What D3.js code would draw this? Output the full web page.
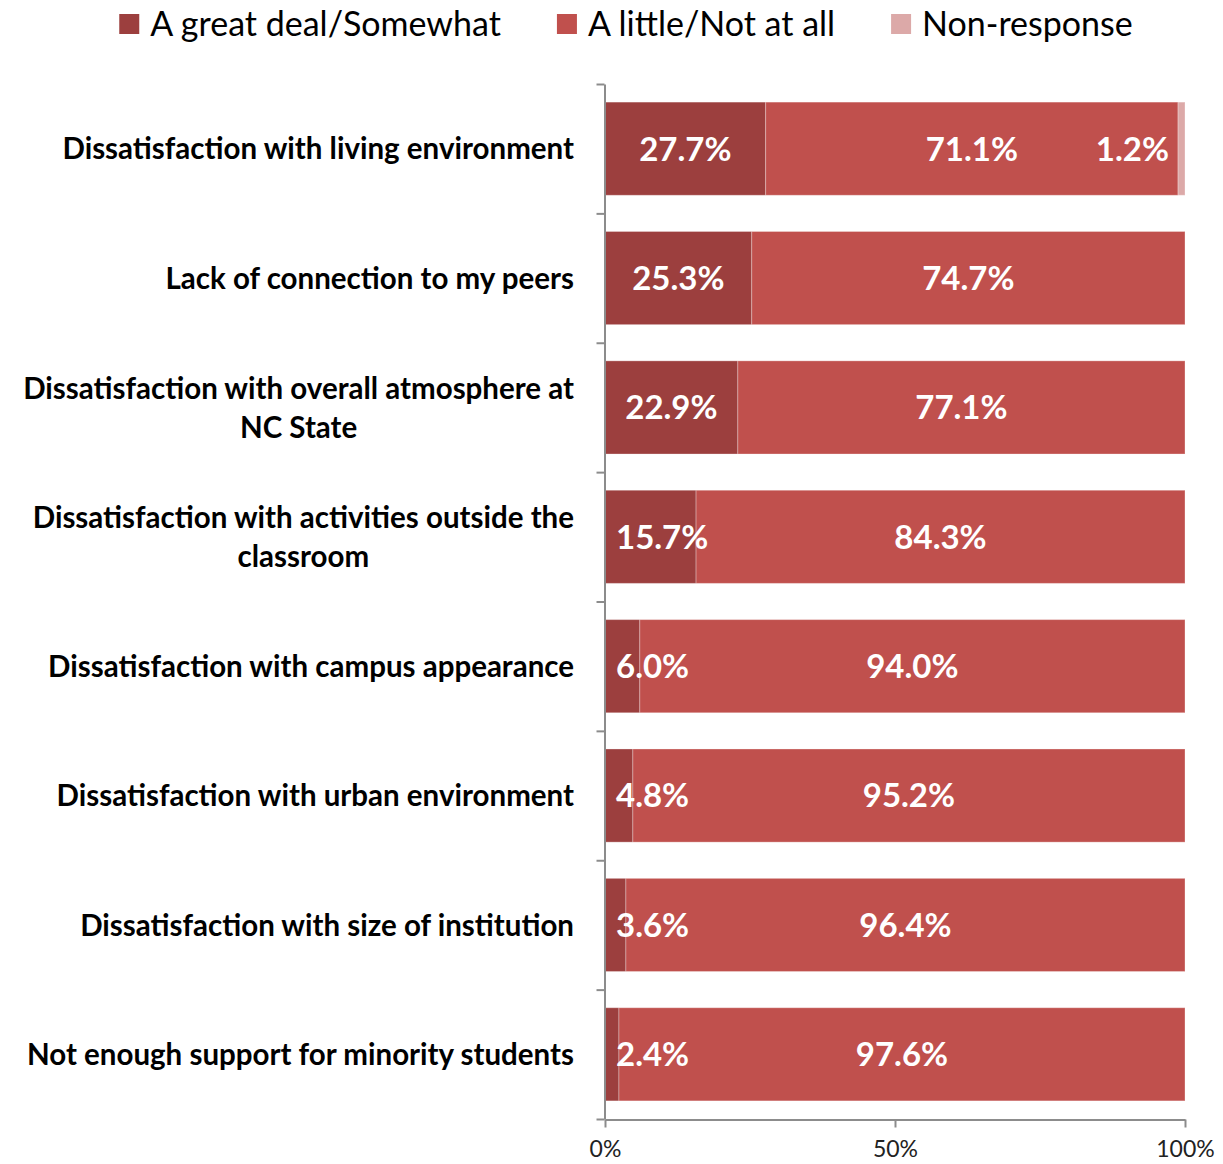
<!DOCTYPE html>
<html>
<head>
<meta charset="utf-8">
<script src="https://cdn.jsdelivr.net/npm/d3@7"></script>
<style>
  html, body { margin: 0; padding: 0; background: #fff; }
  svg { display: block; font-family: Lato, "Open Sans", sans-serif; }
</style>
</head>
<body>
<svg id="chart" width="1223" height="1164"></svg>
<script>
// Reasons for dissatisfaction, share of respondents by answer group
const categories = [
  ["Dissatisfaction with living environment"],
  ["Lack of connection to my peers"],
  ["Dissatisfaction with overall atmosphere at", "NC State"],
  ["Dissatisfaction with activities outside the", "classroom"],
  ["Dissatisfaction with campus appearance"],
  ["Dissatisfaction with urban environment"],
  ["Dissatisfaction with size of institution"],
  ["Not enough support for minority students"]
];
const seriesNames = ["A great deal/Somewhat", "A little/Not at all", "Non-response"];
const greatDeal   = [27.7, 25.3, 22.9, 15.7, 6.0, 4.8, 3.6, 2.4];
const littleNot   = [71.1, 74.7, 77.1, 84.3, 94.0, 95.2, 96.4, 97.6];
const nonResponse = [1.2, 0, 0, 0, 0, 0, 0, 0];
const tickValues  = [0, 50, 100];
const colors      = ["#9c3f3e", "#c0504d", "#dca9a8"];

const svg = d3.select("#chart");
const margin = { top: 84, right: 38, bottom: 45, left: 605 };
const W = 1223, H = 1164;

const rows = categories.map((c, i) => ({
  label: c,
  values: [greatDeal[i], littleNot[i], nonResponse[i]]
}));

const x = d3.scaleLinear().domain([0, 100]).range([margin.left, W - margin.right]);
const y = d3.scaleBand()
  .domain(d3.range(rows.length))
  .range([margin.top, H - margin.bottom])
  .paddingInner(0.28)
  .paddingOuter(0.14);

// stacked segments
const stack = d3.stack().keys([0, 1, 2]).value((d, k) => d.values[k]);
const layers = stack(rows);

const g = svg.append("g");
layers.forEach((layer, k) => {
  g.selectAll(null)
    .data(layer.map((s, i) => ({ s, i })))
    .join("rect")
    .filter(d => d.s[1] - d.s[0] > 0)
    .attr("x", d => x(d.s[0]))
    .attr("y", d => y(d.i))
    .attr("width", d => x(d.s[1]) - x(d.s[0]))
    .attr("height", y.bandwidth())
    .attr("fill", colors[k])
    .attr("stroke", "rgba(255,255,255,0.3)")
    .attr("stroke-width", 1);
});

// value labels
const labelFont = 33;
layers.forEach((layer, k) => {
  layer.forEach((s, i) => {
    const v = rows[i].values[k];
    if (!(v > 0)) return;
    const x0 = x(s[0]), x1 = x(s[1]);
    const t = g.append("text")
      .attr("y", y(i) + y.bandwidth() / 2)
      .attr("dy", "0.36em")
      .attr("fill", "#fff")
      .attr("font-weight", 700)
      .attr("font-size", labelFont)
      .text(v.toFixed(1) + "%");
    const w = t.node().getComputedTextLength();
    if (x1 - x0 >= w + 20) {
      t.attr("x", (x0 + x1) / 2).attr("text-anchor", "middle");
    } else if (k === 0) {
      t.attr("x", x0 + 11).attr("text-anchor", "start");
    } else {
      t.attr("x", x1 - 16).attr("text-anchor", "end");
    }
  });
});

// category axis: ticks at band boundaries
const yb = d3.scaleLinear().domain([0, rows.length]).range([margin.top, H - margin.bottom]);
const yAxis = svg.append("g")
  .attr("transform", `translate(${margin.left - 0.5},0)`)
  .call(d3.axisLeft(yb).tickValues(d3.range(rows.length + 1)).tickFormat("").tickSize(8).tickSizeOuter(0));
yAxis.selectAll("path, line").attr("stroke", "#8c8c8c").attr("stroke-width", 2);

// category labels
rows.forEach((r, i) => {
  const cy = y(i) + y.bandwidth() / 2;
  const lines = r.label;
  const lh = 39;
  const t = svg.append("text")
    .attr("font-weight", 700)
    .attr("font-size", 29.5)
    .attr("fill", "#000");
  lines.forEach((ln, j) => {
    t.append("tspan")
      .attr("y", cy + (j - (lines.length - 1) / 2) * lh)
      .attr("dy", "0.36em")
      .text(ln);
  });
  // right-align the block, centre lines within it
  const widths = [];
  t.selectAll("tspan").each(function () { widths.push(this.getComputedTextLength()); });
  const bw = d3.max(widths);
  const right = 574;
  t.selectAll("tspan")
    .attr("x", right - bw / 2)
    .attr("text-anchor", "middle");
});

// percent axis
const xAxis = svg.append("g")
  .attr("transform", `translate(0,${H - margin.bottom + 0.5})`)
  .call(d3.axisBottom(x).tickValues(tickValues).tickFormat(d => d + "%").tickSize(8).tickSizeOuter(0).tickPadding(13));
xAxis.selectAll("path, line").attr("stroke", "#8c8c8c").attr("stroke-width", 2);
xAxis.selectAll("text")
  .attr("font-family", "Lato, 'Open Sans', sans-serif")
  .attr("font-size", 23)
  .attr("fill", "#222");

// legend
const legend = svg.append("g");
let cx = 0;
seriesNames.forEach((name, k) => {
  const it = legend.append("g").attr("transform", `translate(${cx},0)`);
  it.append("rect").attr("x", 0).attr("y", 14).attr("width", 20).attr("height", 20).attr("fill", colors[k]);
  const t = it.append("text").attr("x", 31).attr("y", 36).attr("font-size", 34).attr("fill", "#000").text(name);
  cx += 31 + t.node().getComputedTextLength() + 56;
});
const legendW = cx - 56;
legend.attr("transform", `translate(${626 - legendW / 2},0)`);
</script>
</body>
</html>
